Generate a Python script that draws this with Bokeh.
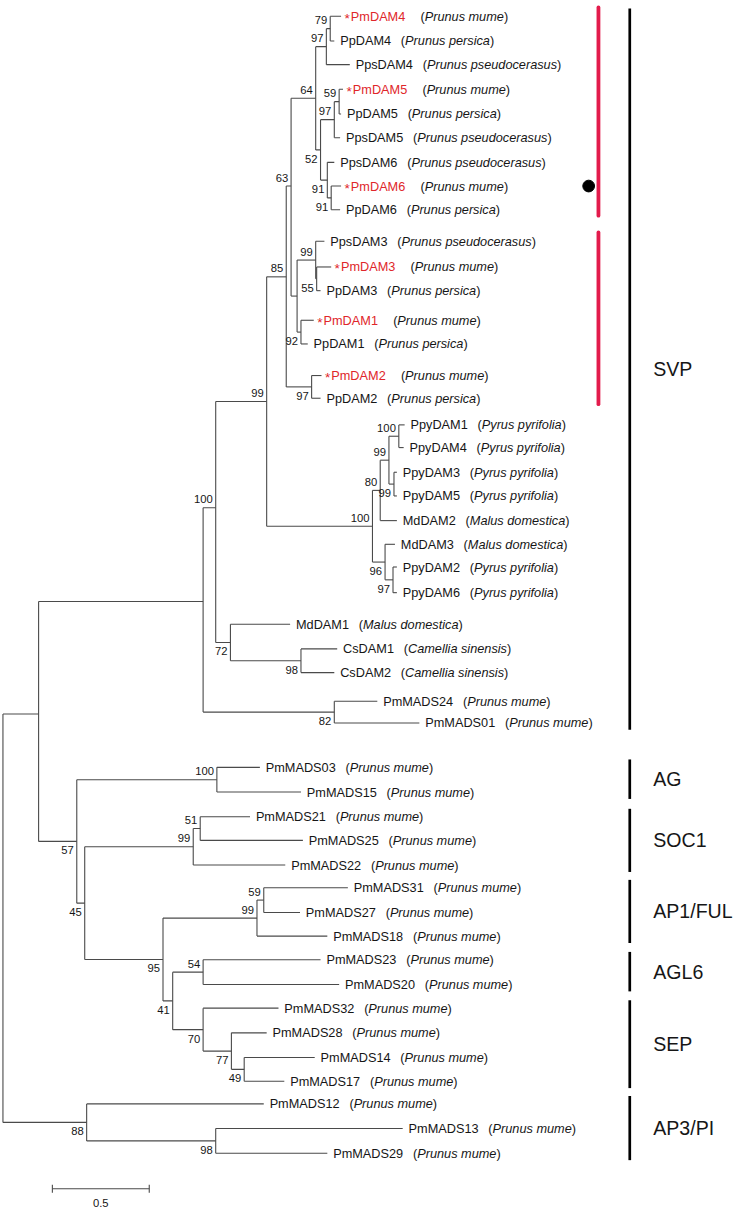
from bokeh.plotting import figure
from bokeh.models import Range1d, ColumnDataSource
from bokeh.embed import file_html
from bokeh.resources import INLINE
from bokeh.core.properties import value

# ---------------- data ----------------
leaf_names = ["PmDAM4", "PpDAM4", "PpsDAM4", "PmDAM5", "PpDAM5", "PpsDAM5", "PpsDAM6", "PmDAM6", "PpDAM6",
              "PpsDAM3", "PmDAM3", "PpDAM3", "PmDAM1", "PpDAM1", "PmDAM2", "PpDAM2",
              "PpyDAM1", "PpyDAM4", "PpyDAM3", "PpyDAM5", "MdDAM2", "MdDAM3", "PpyDAM2", "PpyDAM6",
              "MdDAM1", "CsDAM1", "CsDAM2", "PmMADS24", "PmMADS01",
              "PmMADS03", "PmMADS15", "PmMADS21", "PmMADS25", "PmMADS22", "PmMADS31", "PmMADS27", "PmMADS18",
              "PmMADS23", "PmMADS20", "PmMADS32", "PmMADS28", "PmMADS14", "PmMADS17",
              "PmMADS12", "PmMADS13", "PmMADS29"]
leaf_species = ["Prunus mume", "Prunus persica", "Prunus pseudocerasus", "Prunus mume", "Prunus persica",
                "Prunus pseudocerasus", "Prunus pseudocerasus", "Prunus mume", "Prunus persica",
                "Prunus pseudocerasus", "Prunus mume", "Prunus persica", "Prunus mume", "Prunus persica",
                "Prunus mume", "Prunus persica",
                "Pyrus pyrifolia", "Pyrus pyrifolia", "Pyrus pyrifolia", "Pyrus pyrifolia", "Malus domestica",
                "Malus domestica", "Pyrus pyrifolia", "Pyrus pyrifolia",
                "Malus domestica", "Camellia sinensis", "Camellia sinensis", "Prunus mume", "Prunus mume",
                "Prunus mume", "Prunus mume", "Prunus mume", "Prunus mume", "Prunus mume", "Prunus mume",
                "Prunus mume", "Prunus mume", "Prunus mume", "Prunus mume", "Prunus mume", "Prunus mume",
                "Prunus mume", "Prunus mume", "Prunus mume", "Prunus mume", "Prunus mume"]
# distance from root (substitutions per site)
leaf_depth = [1.745, 1.710, 1.790, 1.755, 1.745, 1.740, 1.710, 1.745, 1.740,
              1.659, 1.694, 1.639, 1.604, 1.573, 1.644, 1.639,
              2.073, 2.068, 2.033, 2.033, 2.033, 2.023, 2.033, 2.033,
              1.482, 1.725, 1.710, 1.932, 2.149,
              1.326, 1.538, 1.275, 1.548, 1.457, 1.780, 1.533, 1.674,
              1.639, 1.735, 1.422, 1.361, 1.609, 1.452,
              1.346, 2.063, 1.674]
# vertical row position of each tip
leaf_row = [16, 41, 65, 90, 115, 139, 164, 188, 212,
            244, 270, 294, 324, 348, 380, 403,
            430, 453, 478, 502, 527, 551, 574, 600,
            632, 657, 681, 710, 732,
            777, 802, 827, 851, 876, 899, 924, 948,
            972, 997, 1021, 1046, 1071, 1095,
            1118, 1143, 1168]
red_leaves = ["PmDAM4", "PmDAM5", "PmDAM6", "PmDAM3", "PmDAM1", "PmDAM2"]

# internal nodes (children listed before parents)
node_names = ["n79", "n97a", "n59", "n97b", "n91b", "n91a", "n52", "n64", "n55", "n99c", "n92", "nX", "n63",
              "n97c", "n85", "n100c", "n99e", "n99d", "n80", "n97d", "n96", "n100b", "n99", "n98", "n72",
              "n100a", "n82", "nSVP", "n100d", "n51", "n99f", "n59b", "n99g", "n54", "n49", "n77", "n70",
              "n41", "n95", "n45", "n57", "nA", "n98b", "n88", "root"]
node_depth = [1.689, 1.669, 1.735, 1.710, 1.694, 1.674, 1.639, 1.614, 1.619, 1.614, 1.538, 1.518, 1.487,
              1.593, 1.462, 2.043, 2.018, 1.992, 1.947, 2.013, 1.972, 1.907, 1.361, 1.538, 1.174,
              1.098, 1.710, 1.033, 1.104, 1.018, 0.982, 1.346, 1.311, 1.033, 1.245, 1.179, 1.033,
              0.876, 0.826, 0.422, 0.381, 0.184, 1.098, 0.432, 0.0]
node_support = [79, 97, 59, 97, 91, 91, 52, 64, 55, 99, 92, None, 63,
                97, 85, 100, 99, 99, 80, 97, 96, 100, 99, 98, 72,
                100, 82, None, 100, 51, 99, 59, 99, 54, 49, 77, 70,
                41, 95, 45, 57, None, 98, 88, None]
node_children = [["PmDAM4", "PpDAM4"], ["n79", "PpsDAM4"], ["PmDAM5", "PpDAM5"], ["n59", "PpsDAM5"],
                 ["PmDAM6", "PpDAM6"], ["PpsDAM6", "n91b"], ["n97b", "n91a"], ["n97a", "n52"],
                 ["PmDAM3", "PpDAM3"], ["PpsDAM3", "n55"], ["PmDAM1", "PpDAM1"], ["n99c", "n92"],
                 ["n64", "nX"], ["PmDAM2", "PpDAM2"], ["n63", "n97c"], ["PpyDAM1", "PpyDAM4"],
                 ["PpyDAM3", "PpyDAM5"], ["n100c", "n99e"], ["n99d", "MdDAM2"], ["PpyDAM2", "PpyDAM6"],
                 ["MdDAM3", "n97d"], ["n80", "n96"], ["n85", "n100b"], ["CsDAM1", "CsDAM2"],
                 ["MdDAM1", "n98"], ["n99", "n72"], ["PmMADS24", "PmMADS01"], ["n100a", "n82"],
                 ["PmMADS03", "PmMADS15"], ["PmMADS21", "PmMADS25"], ["n51", "PmMADS22"],
                 ["PmMADS31", "PmMADS27"], ["n59b", "PmMADS18"], ["PmMADS23", "PmMADS20"],
                 ["PmMADS14", "PmMADS17"], ["PmMADS28", "n49"], ["PmMADS32", "n77"], ["n54", "n70"],
                 ["n99g", "n41"], ["n99f", "n95"], ["n100d", "n45"], ["nSVP", "n57"],
                 ["PmMADS13", "PmMADS29"], ["PmMADS12", "n98b"], ["nA", "n88"]]
# node rows read from the figure where they are not at the midpoint of their children
node_row_read = {"n63": 188, "n85": 280, "n100a": 514, "nSVP": 609, "nA": 723}
support_above_override = ["n100b"]

group_names = ["SVP", "AG", "SOC1", "AP1/FUL", "AGL6", "SEP", "AP3/PI"]
group_first = ["PmDAM4", "PmMADS03", "PmMADS21", "PmMADS31", "PmMADS23", "PmMADS32", "PmMADS12"]
group_last = ["PmMADS01", "PmMADS15", "PmMADS22", "PmMADS18", "PmMADS20", "PmMADS17", "PmMADS29"]
redbar_first = ["PmDAM4", "PpsDAM3"]
redbar_last = ["PpDAM6", "PpDAM2"]
dot_leaf = "PmDAM6"
scale_length = 0.5
scale_label = "0.5"

# ---------------- layout helpers ----------------
W, H = 733, 1209
REF_W, REF_H = 749, 1225
PX = 198.0  # reference pixels per unit of branch length


def ux(px):
    return (px - 2.5) / PX


x0r, x1r = ux(0), ux(REF_W)
SX = W / (x1r - x0r)  # screen px per unit
K = W / REF_W
FONT = "Liberation Sans"
LEAF_FS = 13 * K
BOOT_FS = 11.5 * K
GROUP_FS = 20 * K
TXT = "#161616"
RED_TXT = "#e0262a"
RED_BAR = "#e31b4c"
LINE = "#4a4a4a"

AW = {' ': 278, '(': 333, ')': 333, '*': 389, '/': 278, '.': 278}
for c in "0123456789":
    AW[c] = 556
AW.update(dict(A=667, B=667, C=722, D=722, E=667, F=611, G=778, H=722, I=278, J=500, K=667, L=556, M=833,
               N=722, O=778, P=667, Q=778, R=722, S=667, T=611, U=722, V=667, W=944, X=667, Y=667, Z=611))
AW.update(dict(a=556, b=556, c=500, d=556, e=556, f=278, g=556, h=556, i=222, j=222, k=500, l=222, m=833,
               n=556, o=556, p=556, q=556, r=333, s=500, t=278, u=556, v=500, w=722, x=500, y=500, z=500))


def tw(s, fs):
    return sum(AW.get(ch, 556) for ch in s) / 1000.0 * fs / SX


# ---------------- compute tree coordinates ----------------
pos = {}
for n, d, r in zip(leaf_names, leaf_depth, leaf_row):
    pos[n] = (d, r)
parent_of = {}
for n, d, ch in zip(node_names, node_depth, node_children):
    ys = [pos[c][1] for c in ch]
    pos[n] = (d, node_row_read.get(n, (ys[0] + ys[-1]) / 2.0))
    for i, c in enumerate(ch):
        parent_of[c] = (n, i)

sx0, sy0, sx1, sy1 = [], [], [], []
for n, ch in zip(node_names, node_children):
    nx, ny = pos[n]
    ys = [pos[c][1] for c in ch] + [ny]
    sx0.append(nx); sy0.append(min(ys)); sx1.append(nx); sy1.append(max(ys))
    for c in ch:
        cx, cy = pos[c]
        sx0.append(nx); sy0.append(cy); sx1.append(cx); sy1.append(cy)

p = figure(width=W, height=H, x_range=Range1d(x0r, x1r), y_range=Range1d(REF_H, 0),
           output_backend="svg", toolbar_location=None, min_border=0)
p.xaxis.visible = False
p.yaxis.visible = False
p.grid.visible = False
p.outline_line_color = None
p.background_fill_color = "white"

p.segment(x0=sx0, y0=sy0, x1=sx1, y1=sy1, line_color=LINE, line_width=1.1)

# bootstrap values
bx, by, bt = [], [], []
for n, s in zip(node_names, node_support):
    if s is None:
        continue
    nx, ny = pos[n]
    par = parent_of.get(n)
    above = (par is not None and par[1] == 0) or n in support_above_override
    bx.append(nx - 3 / PX)
    by.append(ny - 8.5 if above else ny + 9)
    bt.append(str(s))
p.text(x=bx, y=by, text=bt, text_font=value(FONT), text_font_size=value(f"{BOOT_FS:.2f}px"),
       text_align="right", text_baseline="middle", text_color=TXT)

# tip labels
nm = dict(x=[], y=[], t=[], c=[])
sp = dict(x=[], y=[], t=[])
pr = dict(x=[], y=[], t=[])
ast = dict(x=[], y=[])
for n, s, d, r in zip(leaf_names, leaf_species, leaf_depth, leaf_row):
    red = n in red_leaves
    x0 = d + (10 if red else 6) / PX
    if red:
        ast["x"].append(d + 3.5 / PX)
        ast["y"].append(r + 2)
    nm["x"].append(x0); nm["y"].append(r); nm["t"].append(n); nm["c"].append(RED_TXT if red else TXT)
    xp = x0 + tw(n, LEAF_FS) + (15.5 if red else 10) / PX
    pr["x"].append(xp); pr["y"].append(r); pr["t"].append("(")
    xs = xp + tw("(", LEAF_FS)
    sp["x"].append(xs); sp["y"].append(r); sp["t"].append(s)
    pr["x"].append(xs + tw(s, LEAF_FS)); pr["y"].append(r); pr["t"].append(")")

fs_leaf = value(f"{LEAF_FS:.2f}px")
p.text(x="x", y="y", text="t", text_color="c", source=ColumnDataSource(nm), text_font=value(FONT),
       text_font_size=fs_leaf, text_align="left", text_baseline="middle")
p.text(x="x", y="y", text="t", source=ColumnDataSource(pr), text_font=value(FONT),
       text_font_size=fs_leaf, text_align="left", text_baseline="middle", text_color=TXT)
p.text(x="x", y="y", text="t", source=ColumnDataSource(sp), text_font=value(FONT),
       text_font_size=fs_leaf, text_font_style="italic", text_align="left", text_baseline="middle",
       text_color=TXT)
p.text(x=ast["x"], y=ast["y"], text=["*"] * len(ast["x"]), text_font=value(FONT),
       text_font_size=value(f"{14 * K:.2f}px"), text_align="left", text_baseline="alphabetic",
       text_color=RED_TXT)

# clade bars and labels
row = dict(zip(leaf_names, leaf_row))
gx = ux(643)
g0 = [row[a] - 8 for a in group_first]
g1 = [row[b] + 7 for b in group_last]
p.segment(x0=[gx] * len(g0), y0=g0, x1=[gx] * len(g0), y1=g1, line_color="black", line_width=2.7)
p.text(x=[ux(667)] * len(group_names), y=[(a + b) / 2 for a, b in zip(g0, g1)], text=group_names,
       text_font=value(FONT), text_font_size=value(f"{GROUP_FS:.2f}px"), text_align="left",
       text_baseline="middle", text_color=TXT)

rx = ux(611)
r0 = [row[a] - 9 for a in redbar_first]
r1 = [row[b] + 6 for b in redbar_last]
p.segment(x0=[rx] * 2, y0=r0, x1=[rx] * 2, y1=r1, line_color=RED_BAR, line_width=3.8, line_cap="round")
p.scatter(x=[ux(601)], y=[row[dot_leaf]], size=12 * K, color="black")

# scale bar
s0 = ux(53)
s1 = s0 + scale_length
p.segment(x0=[s0, s0, s1], y0=[1204, 1200, 1200], x1=[s1, s0, s1], y1=[1204, 1208, 1208],
          line_color=LINE, line_width=1.1)
p.text(x=[(s0 + s1) / 2], y=[1218], text=[scale_label], text_font=value(FONT),
       text_font_size=value(f"{BOOT_FS:.2f}px"), text_align="center", text_baseline="middle", text_color=TXT)

open("out.html", "w").write(file_html(p, INLINE))
